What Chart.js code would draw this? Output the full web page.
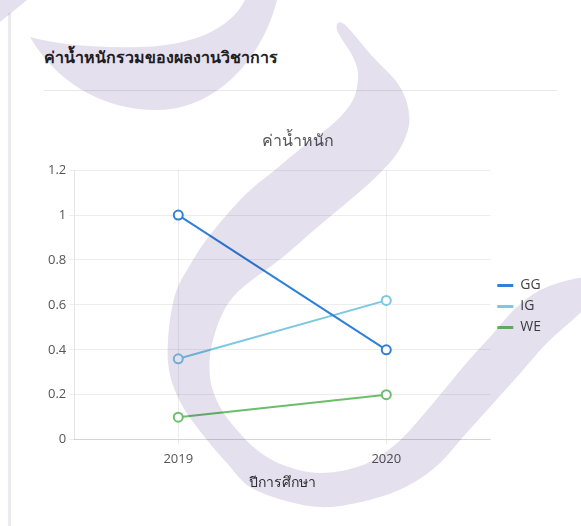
<!DOCTYPE html>
<html>
<head>
<meta charset="utf-8">
<script src="https://cdn.jsdelivr.net/npm/chart.js@4"></script>
<style>
  html, body { margin: 0; padding: 0; background: #fff; }
  body { width: 581px; height: 526px; position: relative; overflow: hidden; font-family: 'Open Sans', 'Noto Sans', sans-serif; }
  .card-edge { position: absolute; left: 8px; top: 13px; width: 3px; height: 520px; background: #e9eaee; }
  .card-title { position: absolute; left: 44px; top: 45px; margin: 0; font-size: 16px; font-weight: 700; color: #222; }
  .card-rule { position: absolute; left: 44px; top: 90px; width: 513px; height: 1px; background: #e8e8ea; }
  .chart-box { position: absolute; left: 45px; top: 122px; width: 506px; height: 369px; }
  .mark { position: absolute; left: 0; top: 0; pointer-events: none; mix-blend-mode: multiply; }
</style>
</head>
<body>
<div class="card-edge"></div>
<h3 class="card-title">ค่าน้ำหนักรวมของผลงานวิชาการ</h3>
<div class="card-rule"></div>
<div class="chart-box"><canvas id="weight-chart"></canvas></div>

<svg class="mark" width="581" height="526" viewBox="0 0 581 526">
  <path fill="#e5e0ee" d="M0 0 L27 0 L0 22 Z"/>
  <path fill="#e5e0ee" d="M30 37 C55 80 100 110 157 110 C215 110 262 60 277 0 L245 0 C230 30 190 46 140 47 C95 48 60 45 30 37 Z"/>
  <path id="mark-curl" fill="#e5e0ee"/>
</svg>

<script>
const years = ['2019', '2020'];
const seriesNames = ['GG', 'IG', 'WE'];
const ggValues = [1, 0.4];
const igValues = [0.36, 0.62];
const weValues = [0.1, 0.2];
const seriesColors = ['#2f80d8', '#7cc8e2', '#6cbf6a'];
const yTicks = [0, 0.2, 0.4, 0.6, 0.8, 1, 1.2];
const fontFamily = "'Open Sans', 'Noto Sans', sans-serif";

// background watermark outline (decoration only)
const curlOutline = [[337, 30], [353, 57], [358, 76], [353, 100], [335, 122], [305, 145], [275, 170], [245, 195],
  [210, 235], [190, 265], [175, 295], [168, 340], [170, 375], [183, 407], [207, 440], [227, 463], [250, 487],
  [290, 502], [330, 507], [380, 497], [413, 483], [440, 463], [463, 437], [490, 407], [517, 377], [547, 343],
  [590, 302], [590, 278], [547, 287], [517, 307], [490, 337], [463, 367], [430, 407], [397, 443], [363, 465],
  [320, 473], [283, 465], [257, 450], [237, 430], [220, 407], [210, 377], [213, 340], [233, 297], [283, 257],
  [320, 225], [350, 200], [377, 176], [398, 152], [409, 125], [406, 100], [395, 80], [373, 57], [344, 24]];

function smoothPath(pts) {
  const n = pts.length;
  let d = `M${pts[0][0]} ${pts[0][1]}`;
  for (let i = 0; i < n; i++) {
    const p0 = pts[(i - 1 + n) % n], p1 = pts[i], p2 = pts[(i + 1) % n], p3 = pts[(i + 2) % n];
    const c1 = [p1[0] + (p2[0] - p0[0]) / 6, p1[1] + (p2[1] - p0[1]) / 6];
    const c2 = [p2[0] - (p3[0] - p1[0]) / 6, p2[1] - (p3[1] - p1[1]) / 6];
    d += ` C${c1[0]} ${c1[1]} ${c2[0]} ${c2[1]} ${p2[0]} ${p2[1]}`;
  }
  return d + ' Z';
}
document.getElementById('mark-curl').setAttribute('d', smoothPath(curlOutline));

function makeSeries(label, data, color) {
  return {
    label,
    data,
    borderColor: color,
    backgroundColor: color,
    pointBackgroundColor: '#fff',
    pointBorderColor: color,
    pointBorderWidth: 2,
    pointRadius: 4.5,
    pointHoverRadius: 5,
    borderWidth: 2,
    tension: 0,
    fill: false
  };
}

const datasets = [
  makeSeries(seriesNames[0], ggValues, seriesColors[0]),
  makeSeries(seriesNames[1], igValues, seriesColors[1]),
  makeSeries(seriesNames[2], weValues, seriesColors[2])
];

new Chart(document.getElementById('weight-chart'), {
  type: 'line',
  data: { labels: years, datasets },
  options: {
    responsive: true,
    maintainAspectRatio: false,
    animation: false,
    plugins: {
      title: {
        display: true,
        text: 'ค่าน้ำหนัก',
        color: '#555',
        font: { family: fontFamily, size: 16, weight: 'normal' },
        padding: { top: 10, bottom: 19 }
      },
      legend: {
        position: 'right',
        labels: {
          color: '#444',
          boxWidth: 16,
          boxHeight: 3,
          padding: 7,
          font: { family: fontFamily, size: 14 },
          generateLabels: (chart) => chart.data.datasets.map((ds, i) => ({
            text: ds.label,
            fillStyle: ds.borderColor,
            strokeStyle: ds.borderColor,
            lineWidth: 0,
            fontColor: '#444',
            datasetIndex: i,
            hidden: false
          }))
        }
      },
      tooltip: { enabled: false }
    },
    scales: {
      x: {
        offset: true,
        ticks: { color: '#555', padding: 7, font: { family: fontFamily, size: 13 } },
        grid: { color: 'rgba(0,0,0,0.07)', tickLength: 5, offset: false },
        title: {
          display: true,
          text: 'ปีการศึกษา',
          color: '#333',
          font: { family: fontFamily, size: 14 },
          padding: { top: 0, bottom: 0 }
        }
      },
      y: {
        min: 0,
        max: 1.2,
        afterBuildTicks: (axis) => { axis.ticks = yTicks.map((value) => ({ value })); },
        ticks: {
          color: '#555',
          padding: 3,
          font: { family: fontFamily, size: 13 },
          callback: (value) => String(Math.round(value * 10) / 10)
        },
        grid: { color: 'rgba(0,0,0,0.07)', tickLength: 5 }
      }
    }
  }
});
</script>
</body>
</html>
